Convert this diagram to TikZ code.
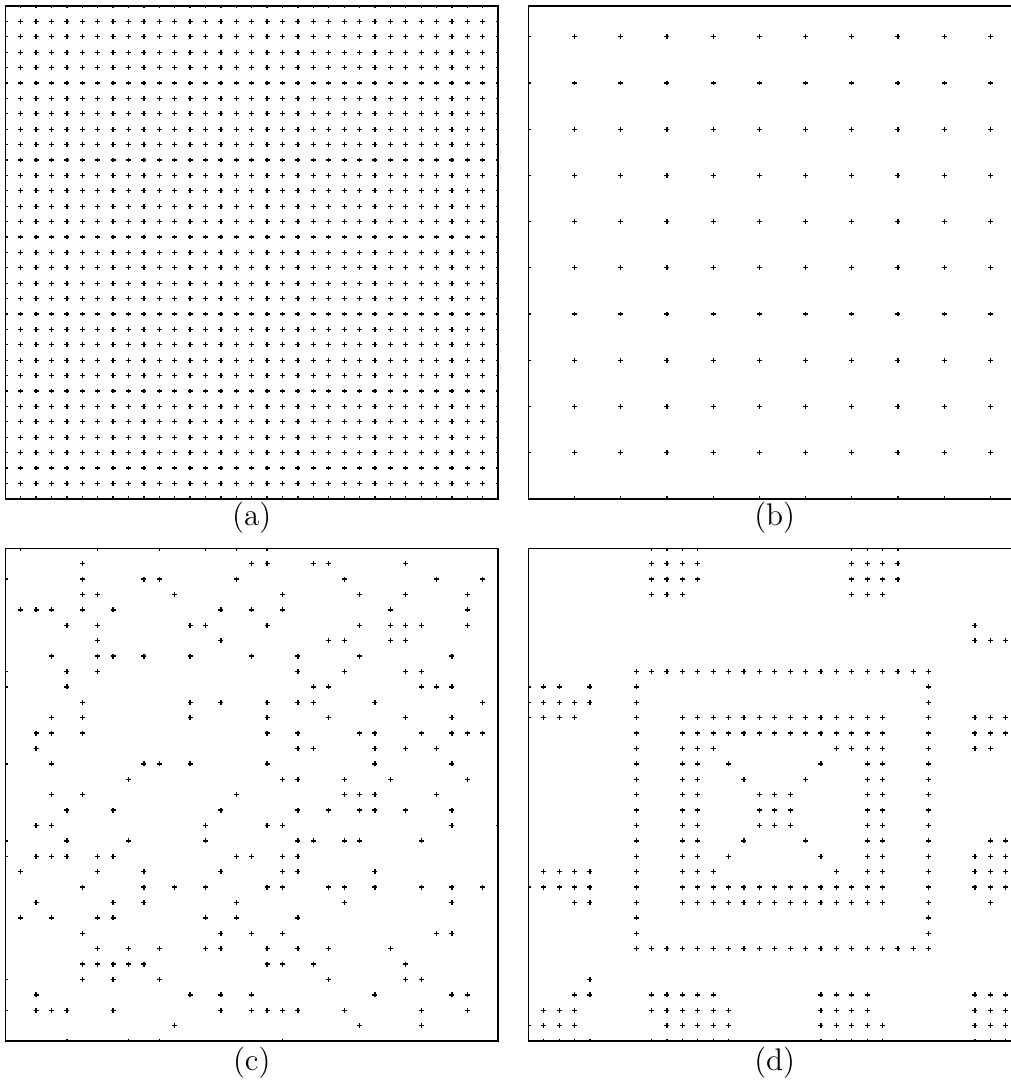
\documentclass[tikz,border=0pt]{standalone}
\usepackage{tikz}
\definecolor{markink}{HTML}{000000}
\definecolor{boxink}{HTML}{000000}
\tikzset{
  panelbox/.style={draw=boxink,line width=0.55pt},
  markline/.style={draw=markink,line width=0.5pt},
  plusmark/.pic={\draw[markline] (-0.16,0) -- (0.16,0) (0,-0.16) -- (0,0.16);},
  caption/.style={font=\fontsize{12.5}{15}\selectfont,inner sep=0pt},
}

\begin{document}
\begin{tikzpicture}[x=6.16pt,y=-6.16pt]
  \useasboundingbox (-0.344,-0.39) rectangle (65.30,70.45);
  % (a) full grid
  \begin{scope}
    \clip (0,0) rectangle (32,32);
    \foreach \c in {0,...,32} \foreach \r in {0,...,32} \pic at (\c,\r) {plusmark};
  \end{scope}
  \draw[panelbox] (0,0) rectangle (32,32);
  \node[caption] (capa) at (16,33.2) {(a)};
  % (b) every third point
  \begin{scope}[shift={(33.96,0)}]
    \begin{scope}
      \clip (0,0) rectangle (32,32);
      \foreach \c in {0,3,...,30} \foreach \r in {2,5,...,32} \pic at (\c,\r) {plusmark};
    \end{scope}
    \draw[panelbox] (0,0) rectangle (32,32);
    \node[caption] (capb) at (16,33.2) {(b)};
  \end{scope}
  % (c) scattered points
  \begin{scope}[shift={(0,35.21)}]
    \begin{scope}
      \clip (0,0) rectangle (32,32);
      \foreach \r/\cols in {
        0/{1,6,10,13,15,17}, 1/{5,16,17,20,21,26}, 2/{0,5,9,10,15,22,28,31},
        3/{5,6,11,18,23,26,30}, 4/{1,2,3,5,7,14,16,18,25,30}, 5/{4,6,12,13,17,23,25,26,27,30},
        6/{6,14,21,22,25,26}, 7/{3,6,7,9,12,16,19,23,29}, 8/{0,4,6,19,22,26,27},
        9/{0,4,20,21,27,28,29}, 10/{5,12,14,17,19,20,24,31}, 11/{3,5,12,17,21,26,29},
        12/{2,3,5,17,19,23,24,27,29,30,31}, 13/{2,19,20,24,26,28}, 14/{0,3,9,10,12,17,24,29},
        15/{8,18,19,22,25,30}, 16/{3,5,15,22,23,24,28}, 17/{4,7,14,19,21,23,24,26,29},
        18/{2,3,13,17,18,29,32}, 19/{0,4,8,13,19,20,22,23,27}, 20/{0,2,3,4,6,7,15,16,18,19},
        21/{1,6,9,14,18,19,24}, 22/{5,9,11,13,17,18,21,22,24,27,29,31}, 23/{2,7,9,15,22,29},
        24/{1,3,6,7,13,15,19}, 25/{5,14,16,18,28,29}, 26/{6,8,10,13,14,17,19,21,25},
        27/{5,6,7,8,9,17,18,20,26}, 28/{0,5,7,10,21,26,27}, 29/{2,12,14,16,24,29,30},
        30/{0,2,3,4,7,14,16,17,18,19,22,27,30}, 31/{11,23,27}, 32/{4,8,10,18}}
        \foreach \c in \cols \pic at (\c,\r) {plusmark};
    \end{scope}
    \draw[panelbox] (0,0) rectangle (32,32);
    \node[caption] (capc) at (16,33.4) {(c)};
  \end{scope}
  % (d) structured pattern
  \begin{scope}[shift={(33.96,35.21)}]
    \begin{scope}
      \clip (0,0) rectangle (32,32);
      \foreach \r/\cols in {
        0/{8,9,10,11,21,22,23,24}, 1/{8,9,10,11,21,22,23,24}, 2/{8,9,10,11,21,22,23,24},
        3/{8,9,10,21,22,23}, 5/{29}, 6/{29,30,31},
        8/{7,...,26}, 9/{0,1,2,4,7,26}, 10/{0,1,2,3,4,7,26},
        11/{0,1,2,3,7,10,11,...,23,26,29,30,31}, 12/{7,10,11,...,23,26,29,30,31},
        13/{7,10,11,12,20,21,22,23,26,29,30}, 14/{7,10,11,13,19,22,23,26},
        15/{7,10,11,14,18,22,23,26}, 16/{7,10,11,15,16,17,22,23,26},
        17/{7,10,11,15,16,17,22,23,26}, 18/{7,10,11,15,16,17,22,23,26},
        19/{7,10,11,14,18,22,23,26,30,31}, 20/{7,10,11,13,19,22,23,26,29,30,31},
        21/{1,2,3,4,7,10,11,12,20,22,23,26,29,30,31},
        22/{0,1,2,3,4,7,10,11,...,23,26,29,30,31}, 23/{3,4,7,10,11,...,23,26,30},
        24/{7,26}, 25/{7,26}, 26/{7,...,26}, 28/{4},
        29/{3,4,8,9,10,11,12,19,20,21,22,29,30,31},
        30/{1,2,3,8,9,10,11,12,13,19,20,21,22,29,30,31},
        31/{0,1,2,3,9,10,11,12,13,19,20,21,22,23,29,30,31},
        32/{1,2,3,4,8,9,10,11,12,13,19,20,21,22,23,29,30,31}}
        \foreach \c in \cols \pic at (\c,\r) {plusmark};
    \end{scope}
    \draw[panelbox] (0,0) rectangle (32,32);
    \node[caption] (capd) at (16,33.4) {(d)};
  \end{scope}
\end{tikzpicture}
\end{document}
